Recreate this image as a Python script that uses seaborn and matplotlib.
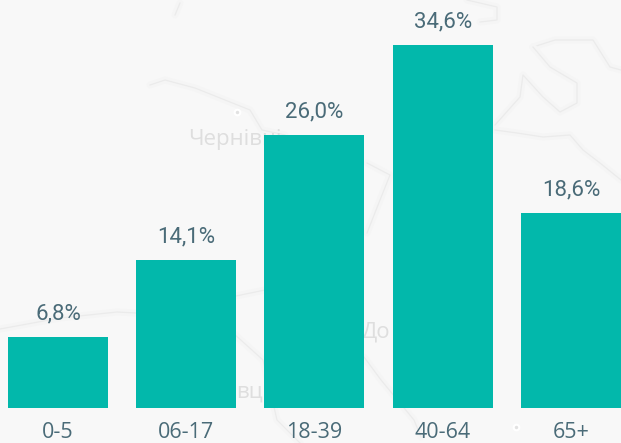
import pandas as pd
import matplotlib
matplotlib.use('Agg')
import matplotlib.pyplot as plt
import seaborn as sns

age_groups = ['0-5', '06-17', '18-39', '40-64', '65+']
shares = [6.8, 14.1, 26.0, 34.6, 18.6]
bar_labels = ['6,8%', '14,1%', '26,0%', '34,6%', '18,6%']

bg_color = '#f8f8f8'
bar_color = '#02b8ab'
text_color = '#4a6b78'

# faint map behind the bars, in image pixels
map_lines = [
    [(150, 85), (165, 80), (195, 88), (225, 100), (250, 110), (262, 130), (285, 135)],
    [(0, 329), (60, 318), (117, 312), (136, 313), (236, 296), (265, 290)],
    [(533, 47), (555, 40), (593, 40), (610, 67), (621, 70)],
    [(533, 47), (550, 67), (577, 83), (577, 103), (560, 112), (543, 97), (523, 75), (520, 97), (495, 125)],
    [(495, 130), (517, 133), (543, 137), (570, 135), (583, 150), (600, 163), (621, 180)],
    [(467, 0), (497, 7), (497, 20), (480, 22)],
    [(180, 3), (175, 15)],
    [(367, 163), (390, 175), (380, 200), (367, 233)],
    [(364, 357), (381, 380), (414, 420), (421, 437)],
    [(233, 333), (263, 360), (277, 420), (300, 443)],
]
map_names = [('Чернівці', 188, 139), ('До', 362, 332), ('вц', 236, 392)]
map_dots = [(237, 112), (516, 427)]

df = pd.DataFrame({'age': age_groups, 'share': shares})

fig = plt.figure(figsize=(6.21, 4.43), dpi=100, facecolor=bg_color)

bg = fig.add_axes([0, 0, 1, 1], zorder=0)
bg.set_xlim(0, 621)
bg.set_ylim(443, 0)
bg.axis('off')
for line in map_lines:
    xs = [p[0] for p in line]
    ys = [p[1] for p in line]
    bg.plot(xs, ys, color='#f5f5f5', lw=5, solid_capstyle='round')
    bg.plot(xs, ys, color='#ebebeb', lw=0.9)
for name, x, y in map_names:
    bg.text(x, y, name, color='#dedede', fontsize=16, family='Open Sans', va='center')
for x, y in map_dots:
    bg.plot(x, y, 'o', color='#e2e2e2', ms=4, mec='white', mew=1.5)

ax = fig.add_axes([0, 35 / 443, 1, 408 / 443], zorder=1)
ax.patch.set_alpha(0)
sns.barplot(data=df, x='age', y='share', color=bar_color, saturation=1, width=0.78, ax=ax)
ax.bar_label(ax.containers[0], labels=bar_labels, padding=9, color=text_color,
             fontsize=16, family='Roboto')
ax.set_xlim(-0.452, 4.39)
ax.set_ylim(0, 38.9)
ax.set_xlabel('')
ax.set_ylabel('')
ax.set_yticks([])
ax.tick_params(axis='x', length=0, pad=10, labelsize=15.5, labelcolor=text_color)
for lab in ax.get_xticklabels():
    lab.set_family('Open Sans')
sns.despine(ax=ax, left=True, bottom=True)

fig.savefig('out.png', dpi=100, facecolor=bg_color)
